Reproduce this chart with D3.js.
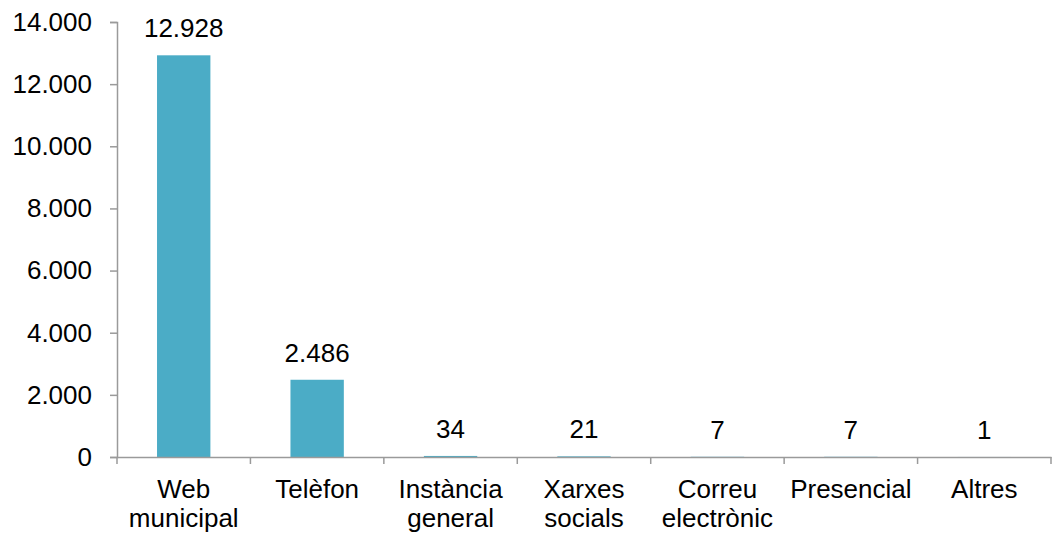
<!DOCTYPE html>
<html>
<head>
<meta charset="utf-8">
<script src="https://cdn.jsdelivr.net/npm/d3@7"></script>
<style>
  html, body { margin: 0; padding: 0; background: #fff; }
  svg { display: block; font-family: "Liberation Sans", Arial, sans-serif; }
</style>
</head>
<body>
<svg id="chart" width="1052" height="536"></svg>
<script>
const categories = ["Web\nmunicipal", "Telèfon", "Instància\ngeneral", "Xarxes\nsocials", "Correu\nelectrònic", "Presencial", "Altres"];
const values = [12928, 2486, 34, 21, 7, 7, 1];
const yTicks = [0, 2000, 4000, 6000, 8000, 10000, 12000, 14000];

const svg = d3.select("#chart");
const margin = { left: 117, right: 1, top: 22, bottom: 79 };
const W = 1052, H = 536;
const FS = 26;

const fmt = v => d3.format(",")(v).replace(/,/g, ".");

const x = d3.scaleBand()
  .domain(categories)
  .range([margin.left, W - margin.right])
  .paddingInner(0.6)
  .paddingOuter(0.3);

const y = d3.scaleLinear()
  .domain([0, 14000])
  .range([H - margin.bottom, margin.top]);

const axisColor = "#9a9a9a";

// bars
svg.append("g").selectAll("rect")
  .data(values)
  .join("rect")
  .attr("x", (d, i) => x(categories[i]))
  .attr("y", d => y(d))
  .attr("width", x.bandwidth())
  .attr("height", d => y(0) - y(d))
  .attr("fill", "#4BACC6");

// data labels
svg.append("g").selectAll("text")
  .data(values)
  .join("text")
  .attr("x", (d, i) => x(categories[i]) + x.bandwidth() / 2)
  .attr("y", d => y(d) - 18)
  .attr("text-anchor", "middle")
  .attr("font-size", FS)
  .attr("fill", "#000")
  .text(d => fmt(d));

// y axis
const yAxis = d3.axisLeft(y)
  .tickValues(yTicks)
  .tickFormat(fmt)
  .tickSize(7)
  .tickPadding(18);
const gy = svg.append("g")
  .attr("transform", `translate(${margin.left},0)`)
  .call(yAxis);
gy.select(".domain").attr("stroke", axisColor).attr("stroke-width", 1.5);
gy.selectAll(".tick line").attr("stroke", axisColor).attr("stroke-width", 1.5);
gy.selectAll(".tick text").attr("font-size", FS).attr("fill", "#000")
  .attr("font-family", "Liberation Sans, Arial, sans-serif");

// x axis
const xAxis = d3.axisBottom(x).tickSize(0).tickFormat("");
const gx = svg.append("g")
  .attr("transform", `translate(0,${y(0)})`)
  .call(xAxis);
gx.select(".domain").attr("stroke", axisColor).attr("stroke-width", 1.5);

// category boundary ticks
const step = x.step();
const boundaries = d3.range(categories.length + 1).map(i => margin.left + i * step);
gx.append("g").selectAll("line")
  .data(boundaries)
  .join("line")
  .attr("x1", d => d).attr("x2", d => d)
  .attr("y1", 0).attr("y2", 7)
  .attr("stroke", axisColor).attr("stroke-width", 1.5);

// category labels
const lab = svg.append("g").selectAll("text")
  .data(categories)
  .join("text")
  .attr("text-anchor", "middle")
  .attr("font-size", FS)
  .attr("fill", "#000")
  .attr("transform", d => `translate(${x(d) + x.bandwidth() / 2},${y(0) + 41})`);
lab.each(function(d) {
  const t = d3.select(this);
  d.split("\n").forEach((line, i) => {
    t.append("tspan").attr("x", 0).attr("y", i * 29).text(line);
  });
});
</script>
</body>
</html>
